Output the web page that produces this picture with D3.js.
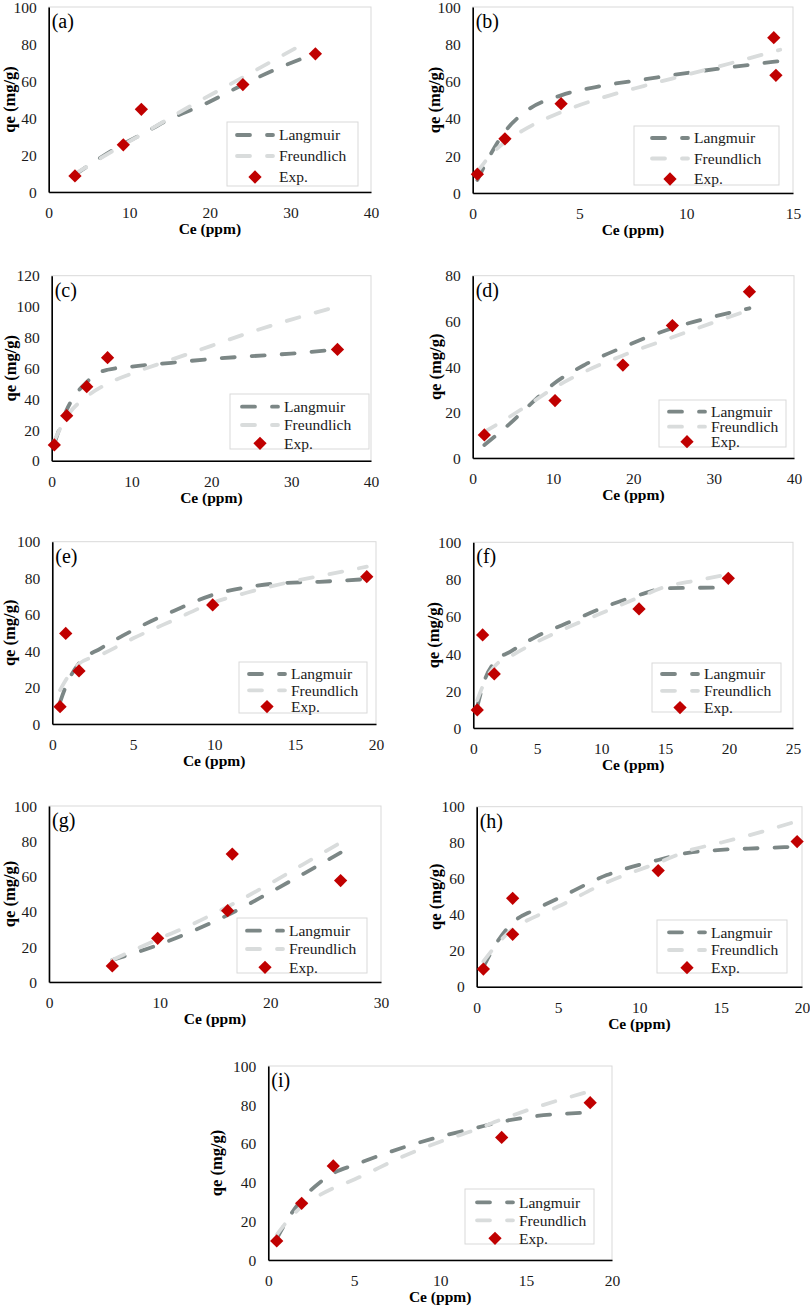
<!DOCTYPE html>
<html><head><meta charset="utf-8">
<script src="https://cdn.jsdelivr.net/npm/d3@7/dist/d3.min.js"></script>
<style>body{margin:0;background:#fff}svg{display:block}</style>
</head><body><svg id="c" width="810" height="1310"></svg>
<script>
// ---------- DATA ----------
const seriesNames = ["Langmuir", "Freundlich", "Exp."];
const panelLabels = ["(a)", "(b)", "(c)", "(d)", "(e)", "(f)", "(g)", "(h)", "(i)"];
const xAxisTitle = "Ce (ppm)";
const yAxisTitle = "qe (mg/g)";

// (a)
const expA  = [[3.26,8.7],[9.26,25.5],[11.5,44.7],[24.1,58.1],[33.1,74.7]];
const langA = [[3.26,9.3],[9.26,26],[11.5,31],[14.6,38.5],[19.6,48],[24.1,58],[28,66],[32,73]];
const freuA = [[3.26,9.8],[9.26,25.5],[11.5,31],[17,45],[24.1,62],[32,81]];
const xTicksA = [0,10,20,30,40];
const yTicksA = [0,20,40,60,80,100];
// (b)
const expB  = [[0.22,10.1],[1.51,29.1],[4.14,48.0],[14.1,83.5],[14.2,63.3]];
const langB = [[0.22,7],[0.8,20],[1.51,33],[2.5,44],[4.14,52.5],[6,57.5],[8,61],[10,64.5],[12,67.5],[14.4,71]];
const freuB = [[0.22,11.4],[0.8,19.9],[1.51,27.4],[2.5,34.6],[4.14,43.5],[6,51],[8,57.5],[10,63.5],[12,69.5],[14.4,77]];
const xTicksB = [0,5,10,15];
const yTicksB = [0,20,40,60,80,100];
// (c)
const expC  = [[0.33,10.2],[1.88,29.2],[4.39,48],[7.0,66.8],[35.8,72.2]];
const langC = [[0.33,11],[1.2,24],[1.88,33],[3,43],[4.39,51],[5.5,56],[7,59],[10,61],[15,63.5],[20,66],[25,67.8],[30,69.5],[35.8,72.2]];
const freuC = [[0.33,13],[1.88,28.5],[4.39,41.5],[7,50],[10,56.5],[15,65.5],[20,74.5],[25,83.5],[30,91.5],[35.8,100]];
const xTicksC = [0,10,20,30,40];
const yTicksC = [0,20,40,60,80,100,120];
// (d)
const expD  = [[1.45,10.1],[10.25,25.2],[18.7,40.8],[24.86,58.1],[34.45,73]];
const langD = [[1.45,5.7],[4.6,15],[7,23],[10.25,33],[14,41],[18.7,48.6],[24.86,57],[30,62],[34.45,65.7]];
const freuD = [[1.45,11.5],[3.4,15.5],[7,23.5],[10.25,31],[14,38],[18.7,45],[24.86,53],[30,59.5],[34.45,65]];
const xTicksD = [0,10,20,30,40];
const yTicksD = [0,20,40,60,80];
// (e)
const expE  = [[0.48,9.5],[0.83,49.7],[1.65,29.1],[9.91,65.3],[19.43,80.8]];
const langE = [[0.48,12],[0.9,22],[1.65,33.3],[3,41.5],[5,51.5],[7.5,62],[9.91,70.8],[12,75],[14,77.2],[16.5,78],[19.43,79.5]];
const freuE = [[0.48,18.6],[0.9,25],[1.65,33],[3,38],[5,47],[7.5,57],[9.91,66.5],[12,72],[15,78.5],[17,82],[19.43,86.3]];
const xTicksE = [0,5,10,15,20];
const yTicksE = [0,20,40,60,80,100];
// (f)
const expF  = [[0.31,9.7],[0.73,50.1],[1.64,29.1],[12.96,64.1],[19.94,80.6]];
const langF = [[0.31,11.5],[0.9,26],[1.64,35.2],[3,41.5],[5,49.5],[7.5,57],[10,64.4],[12.96,71.6],[15,75.2],[17.5,75.5],[19.94,75.6]];
const freuF = [[0.31,15],[0.9,25],[1.64,33],[3,39],[5,46.5],[7.5,54.5],[10,61.8],[12.96,70.4],[15,76],[17.5,79.5],[19.94,82.8]];
const xTicksF = [0,5,10,15,20,25];
const yTicksF = [0,20,40,60,80,100];
// (g)
const expG  = [[5.72,9.1],[9.82,24.8],[16.14,40.5],[16.56,72.7],[26.35,57.6]];
const langG = [[5.72,12.5],[9.82,21],[13,29],[16.14,38],[20,51],[23,61.5],[26.35,73.5]];
const freuG = [[5.72,12.5],[9.82,24.2],[13,33],[16.14,42.8],[20,56],[23,67],[26.35,79.2]];
const xTicksG = [0,10,20,30];
const yTicksG = [0,20,40,60,80,100];
// (h)
const expH  = [[0.41,9.8],[2.21,49.1],[2.21,29.1],[11.16,64.5],[19.7,80.6]];
const langH = [[0.41,11],[1.2,24],[2.21,35.6],[3.5,42.5],[5,49],[8,62],[11.16,70.4],[13,74.4],[15,76],[17.5,77],[19.7,77.8]];
const freuH = [[0.41,14],[1.2,23],[2.21,32],[3.5,38.5],[5,44.5],[8,58],[11.16,68.9],[13,75.5],[15,80],[17.5,86],[19.7,92]];
const xTicksH = [0,5,10,15,20];
const yTicksH = [0,20,40,60,80,100];
// (i)
const expI  = [[0.49,9.8],[1.94,29.2],[3.78,48.5],[13.58,63.2],[18.73,81.1]];
const langI = [[0.49,11],[1.2,22],[1.94,31],[3,40],[3.78,44.7],[5,49],[8,58.4],[10,63.6],[12,67.9],[13.58,71.3],[15,73.5],[18.73,76]];
const freuI = [[0.49,13],[1.2,21],[1.94,27.5],[3,33.5],[3.78,37],[5,41.5],[8,54],[10,61],[12,67],[13.58,72.5],[15,77],[18.73,87]];
const xTicksI = [0,5,10,15,20];
const yTicksI = [0,20,40,60,80,100];

// ---------- LAYOUT (positions only) ----------
const layout = [
  {L:48.7, R:371, B:192,   T:7,     yt:9,     lg:{x:227,y:122,w:131,h:64,dy:21,  ox:8,  t:13}},
  {L:472.7,R:793, B:193,   T:7,     yt:434,   lg:{x:634,y:126,w:145,h:59,dy:20.5,ox:16, t:12}},
  {L:51.7, R:371, B:460.7, T:275.7, yt:10,    lg:{x:230,y:394,w:139,h:55,dy:18.3,ox:10, t:12.7}},
  {L:472.7,R:794, B:458,   T:275.7, yt:435,   lg:{x:659,y:400,w:127,h:47,dy:15,  ox:8,  t:11.7}},
  {L:52.3, R:376, B:724,   T:541.7, yt:9,     lg:{x:239,y:662,w:128,h:51,dy:16.3,ox:8,  t:12}},
  {L:473.3,R:793, B:728,   T:542.3, yt:433.5, lg:{x:652,y:663,w:129,h:49,dy:16.8,ox:8,  t:11}},
  {L:49,   R:381, B:982,   T:806,   yt:9,     lg:{x:237,y:918,w:130,h:55,dy:18.3,ox:8,  t:12.7}},
  {L:476.7,R:802, B:986.7, T:806.7, yt:435,   lg:{x:657,y:920,w:130,h:53,dy:17.7,ox:10, t:12.3}},
  {L:268.3,R:612, B:1260,  T:1066,  yt:216,   lg:{x:465,y:1189,w:129,h:55,dy:18, ox:10, t:13.3}}
];
const dataSets = [
  [expA,langA,freuA,xTicksA,yTicksA],[expB,langB,freuB,xTicksB,yTicksB],
  [expC,langC,freuC,xTicksC,yTicksC],[expD,langD,freuD,xTicksD,yTicksD],
  [expE,langE,freuE,xTicksE,yTicksE],[expF,langF,freuF,xTicksF,yTicksF],
  [expG,langG,freuG,xTicksG,yTicksG],[expH,langH,freuH,xTicksH,yTicksH],
  [expI,langI,freuI,xTicksI,yTicksI]
];

// ---------- STYLE ----------
const FONT = "'Liberation Serif','Times New Roman',serif";
const cLang = "#7c8786", cFreu = "#d9dcdc", cExp = "#c00000";
const DASH = "13,17", LW = 3.8;

const svg = d3.select("#c");
svg.append("rect").attr("width",810).attr("height",1310).attr("fill","#fff");

const diamond = d3.symbol().type(d3.symbolSquare).size(88);

dataSets.forEach((ds, i) => {
  const [exp, lang, freu, xt, yt] = ds;
  const P = layout[i];
  const x = d3.scaleLinear().domain([xt[0], xt[xt.length-1]]).range([P.L, P.R]);
  const y = d3.scaleLinear().domain([yt[0], yt[yt.length-1]]).range([P.B, P.T]);
  const g = svg.append("g");

  g.append("rect").attr("x",P.L).attr("y",P.T).attr("width",P.R-P.L).attr("height",P.B-P.T)
    .attr("fill","none").attr("stroke","#d9d9d9").attr("stroke-width",1);

  const xAxis = d3.axisBottom(x).tickValues(xt).tickSize(0).tickPadding(0).tickFormat(d3.format("d"));
  const yAxis = d3.axisLeft(y).tickValues(yt).tickSize(0).tickPadding(12).tickFormat(d3.format("d"));
  const gx = g.append("g").attr("transform",`translate(0,${P.B})`).call(xAxis);
  const gy = g.append("g").attr("transform",`translate(${P.L},0)`).call(yAxis);
  [gx, gy].forEach(a => {
    a.select(".domain").attr("stroke","#000").attr("stroke-width",1.6);
    a.selectAll("text").attr("font-family",FONT).attr("font-size",15.5).attr("fill","#1a1a1a");
  });
  gx.selectAll("text").attr("dy",null).attr("y",26);
  gy.selectAll("text").attr("dy","0.34em");

  g.append("text").attr("x",(P.L+P.R)/2).attr("y",P.B+42).attr("text-anchor","middle")
    .attr("font-family",FONT).attr("font-weight","bold").attr("font-size",15.5).attr("fill","#000")
    .text(xAxisTitle);
  g.append("text").attr("transform",`translate(${P.yt},${(P.T+P.B)/2}) rotate(-90)`)
    .attr("text-anchor","middle").attr("dominant-baseline","central")
    .attr("font-family",FONT).attr("font-weight","bold").attr("font-size",16.5).attr("fill","#000")
    .text(yAxisTitle);
  g.append("text").attr("x",P.L+3).attr("y",P.T+21).attr("font-family",FONT).attr("font-size",20)
    .attr("fill","#000").text(panelLabels[i]);

  const line = d3.line().x(d=>x(d[0])).y(d=>y(d[1])).curve(d3.curveMonotoneX);
  g.append("path").datum(lang).attr("d",line).attr("fill","none").attr("stroke",cLang)
    .attr("stroke-width",LW).attr("stroke-dasharray",DASH).attr("stroke-linecap","round");
  g.append("path").datum(freu).attr("d",line).attr("fill","none").attr("stroke",cFreu)
    .attr("stroke-width",LW).attr("stroke-dasharray",DASH).attr("stroke-linecap","round");

  g.selectAll(".pt").data(exp).enter().append("path").attr("class","pt")
    .attr("d",diamond).attr("fill",cExp)
    .attr("transform",d=>`translate(${x(d[0])},${y(d[1])}) rotate(45)`);

  const lg = P.lg;
  const L = g.append("g");
  L.append("rect").attr("x",lg.x).attr("y",lg.y).attr("width",lg.w).attr("height",lg.h)
    .attr("fill","#fff").attr("stroke","#d9d9d9").attr("stroke-width",1);
  const sx = lg.x + lg.ox;
  [cLang, cFreu].forEach((c, k) => {
    const cy = lg.y + lg.t + k*lg.dy;
    L.append("line").attr("x1",sx+2).attr("x2",sx+38).attr("y1",cy).attr("y2",cy)
      .attr("stroke",c).attr("stroke-width",LW).attr("stroke-dasharray",DASH).attr("stroke-linecap","round");
  });
  L.append("path").attr("d",diamond).attr("fill",cExp)
    .attr("transform",`translate(${sx+20},${lg.y+lg.t+2*lg.dy}) rotate(45)`);
  seriesNames.forEach((s, k) => {
    L.append("text").attr("x",sx+44).attr("y",lg.y+lg.t+k*lg.dy).attr("dy","0.34em")
      .attr("font-family",FONT).attr("font-size",15.5).attr("fill","#1a1a1a").text(s);
  });
});
</script></body></html>
